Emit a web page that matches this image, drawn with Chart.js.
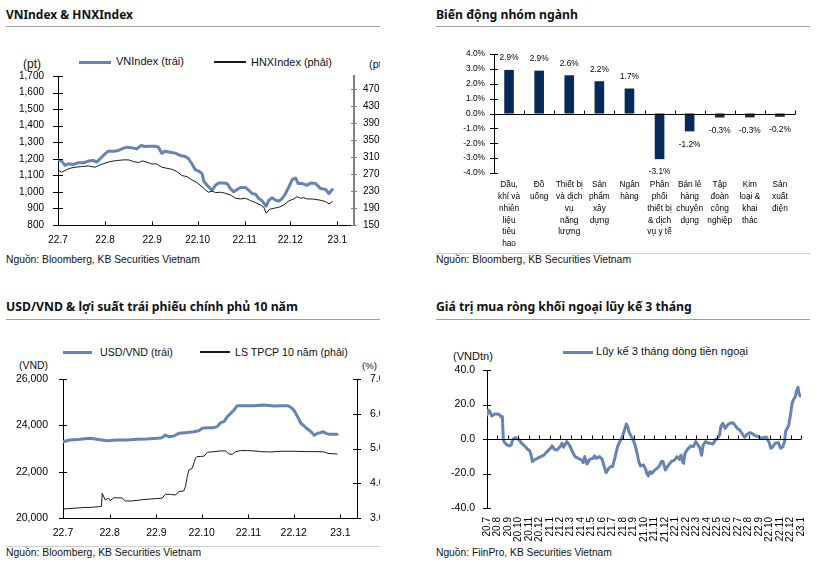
<!DOCTYPE html>
<html><head><meta charset="utf-8">
<script src="https://cdn.jsdelivr.net/npm/chart.js@4.4.0/dist/chart.umd.min.js"></script>
<style>
html,body{margin:0;padding:0;background:#fff;}
#root{position:relative;width:822px;height:562px;overflow:hidden;background:#fff;}
.panel{position:absolute;overflow:hidden;}
.t{position:absolute;white-space:nowrap;line-height:1;color:#111;}
.bar{position:absolute;}
canvas{position:absolute;}
</style></head><body><div id="root"></div>
<script>
// ---------------- DATA ----------------
// Panel 1: VNIndex & HNXIndex (x = days since 1 Jul 2022)
const indexMonthDays = [0, 31, 62, 92, 123, 153, 184];
const indexMonthLabels = ['22.7', '22.8', '22.9', '22.10', '22.11', '22.12', '23.1'];
const vnDays = [0,2.4,4.6,6.8,10.1,13.4,16.7,20.0,23.3,25.5,27.7,31.0,33.2,36.5,39.8,42.0,45.3,48.6,51.9,54.8,57.4,60.7,64.0,66.2,68.4,70.6,73.9,77.2,80.5,83.8,86.0,88.2,90.4,92.6,94.9,96.0,98.2,100.4,101.5,103.7,105.9,109.2,111.4,113.6,115.8,118.0,120.2,123.5,125.7,127.9,130.1,132.3,134.5,137.1,138.9,141.1,143.3,145.5,147.7,149.9,152.1,154.3,156.5,158.2,160.9,164.2,166.4,169.7,173.0,176.3,178.5,180.7];
const vnValues = [1194,1186,1160,1170,1166,1176,1176,1186,1190,1180,1200,1230,1246,1246,1250,1260,1270,1266,1260,1280,1274,1276,1276,1270,1234,1246,1240,1234,1220,1214,1200,1170,1134,1126,1110,1066,1040,1020,1010,1040,1054,1054,1050,1020,1000,1014,1026,1026,1010,990,986,960,946,914,950,964,950,944,960,990,1030,1074,1084,1050,1050,1040,1054,1050,1020,1014,990,1014];
const hnxDays = [0,2.4,4.6,7.9,11.2,15.6,20.0,24.4,27.7,31.0,34.3,38.7,43.1,46.4,49.7,53.0,55.7,58.5,61.8,65.1,68.4,71.7,75.0,78.3,81.6,84.9,88.2,91.5,94.9,97.1,99.3,101.5,103.7,107.0,110.3,113.6,116.9,120.2,123.5,126.8,130.1,133.4,135.6,137.1,139.3,142.2,145.5,148.8,152.1,155.4,157.6,159.8,162.0,164.2,167.5,171.9,176.3,178.5,180.7];
const hnxValues = [279.4,273.9,277.9,283.3,285.7,287.3,288.8,285.7,291.2,295.1,299.0,301.4,303.0,303.0,299.0,296.7,300.6,297.5,293.5,293.5,285.7,283.3,281.0,275.5,266.1,263.7,255.9,249.6,240.2,232.4,226.9,230.0,226.1,226.9,224.5,220.6,212.8,211.2,212.8,207.3,202.6,197.1,191.6,177.5,186.9,189.3,191.6,197.1,206.5,211.2,216.7,212.8,214.3,211.2,211.2,208.9,205.0,199.5,205.0];
const hnxTicks = [150,190,230,270,310,350,390,430,470];

// Panel 2: sector performance
const sectorLabels = [
  ['Dầu,','khí và','nhiên','liệu','tiêu','hao'],
  ['Đồ','uống'],
  ['Thiết bị','và dịch','vụ','năng','lượng'],
  ['Sản','phẩm','xây','dựng'],
  ['Ngân','hàng'],
  ['Phân','phối','thiết bị','& dịch','vụ y tế'],
  ['Bán lẻ','hàng','chuyên','dụng'],
  ['Tập','đoàn','công','nghiệp'],
  ['Kim','loại &','khai','thác'],
  ['Sản','xuất','điện']
];
const sectorChanges = [2.93, 2.88, 2.57, 2.17, 1.68, -3.07, -1.2, -0.27, -0.26, -0.22];

// Panel 3: USD/VND & 10Y government bond yield (x = days since 1 Jul 2022)
const usdDays = [0,4.7,11.3,18.0,22.4,29.1,35.7,42.4,49.1,55.7,62.4,65.7,67.9,70.1,73.5,76.8,81.2,86.8,90.1,92.3,95.7,100.1,102.3,104.5,106.8,109.0,111.2,113.4,115.6,120.1,126.7,133.4,140.1,144.5,148.9,151.2,153.4,155.6,157.8,160.0,162.3,164.5,166.7,168.9,171.1,172.3,174.5,176.7,180.0,181.8];
const usdValues = [23295,23367,23396,23439,23396,23338,23367,23367,23396,23410,23439,23468,23583,23511,23540,23655,23684,23727,23770,23871,23899,23899,23943,24115,24159,24374,24518,24662,24849,24849,24849,24878,24835,24849,24849,24777,24633,24374,24087,23972,23828,23727,23569,23655,23684,23727,23655,23612,23612,23612];
const bondDays = [0,6.9,13.5,20.2,24.6,25.5,26.0,28.0,30.2,31.3,33.5,35.7,39.1,41.3,45.7,51.3,55.7,62.4,65.7,67.9,71.3,74.6,76.8,80.1,81.2,82.4,83.5,85.7,87.9,89.0,91.2,93.5,95.7,100.1,104.5,107.9,110.1,112.3,114.5,117.9,122.3,126.7,131.2,137.8,144.5,153.4,162.3,168.9,173.4,175.6,181.8];
const bondValues = [3.26,3.28,3.30,3.31,3.33,3.33,3.71,3.52,3.57,3.50,3.58,3.58,3.58,3.49,3.49,3.52,3.54,3.56,3.57,3.68,3.68,3.66,3.76,3.78,3.90,4.19,4.38,4.43,4.72,4.77,4.77,4.78,4.89,4.91,4.93,4.93,4.84,4.83,4.91,4.94,4.94,4.93,4.91,4.90,4.92,4.92,4.91,4.91,4.90,4.86,4.84];

// Panel 4: 3-month cumulative foreign net buying (x = months since Jul 2020)
const flowMonthLabels = ['20.7','20.8','20.9','20.10','20.11','20.12','21.1','21.2','21.3','21.4','21.5','21.6','21.7','21.8','21.9','21.10','21.11','21.12','22.1','22.2','22.3','22.4','22.5','22.6','22.7','22.8','22.9','22.10','22.11','22.12','23.1'];
const flowMonths = [0.00,0.13,0.28,0.44,0.59,0.75,1.00,1.22,1.38,1.47,1.56,1.69,1.94,2.16,2.31,2.47,2.69,2.94,3.09,3.25,3.50,3.72,3.88,4.03,4.19,4.34,4.50,4.81,5.13,5.44,5.75,6.06,6.22,6.44,6.69,7.00,7.16,7.31,7.63,7.88,8.09,8.41,8.72,9.03,9.19,9.34,9.56,9.81,10.13,10.28,10.44,10.75,11.00,11.22,11.38,11.63,11.84,12.00,12.25,12.47,12.69,12.94,13.19,13.31,13.44,13.56,13.72,13.88,14.03,14.19,14.34,14.50,14.66,14.97,15.19,15.26,15.41,15.57,15.73,16.04,16.35,16.51,16.66,16.82,17.04,17.29,17.60,17.91,18.16,18.38,18.54,18.69,18.79,18.91,19.16,19.47,19.72,19.94,20.16,20.35,20.50,20.66,20.88,21.19,21.41,21.59,21.81,22.03,22.22,22.34,22.53,22.75,22.97,23.22,23.47,23.69,23.90,24.15,24.40,24.62,24.78,25.09,25.40,25.71,25.96,26.18,26.49,26.71,26.96,27.12,27.27,27.52,27.84,28.05,28.27,28.43,28.52,28.68,28.83,28.99,29.15,29.30,29.46,29.55,29.71,29.80,29.93,30.02];
const flowValues = [13.9,16.8,15.9,13.3,13.9,14.5,14.5,13.9,12.6,13.0,-0.6,-2.1,-3.5,-4.0,-3.5,-0.2,0.8,0.0,-0.6,-2.1,-3.5,-4.8,-6.0,-6.4,-8.7,-13.1,-12.2,-11.2,-10.2,-9.3,-7.3,-5.4,-4.0,-6.0,-6.4,-4.4,-2.5,-4.8,-1.5,-3.5,-6.4,-10.2,-11.2,-12.2,-13.7,-10.2,-14.5,-11.8,-11.2,-9.8,-11.2,-10.2,-11.8,-16.4,-19.5,-17.0,-16.0,-16.0,-10.2,-4.4,-1.5,1.4,6.2,8.7,7.2,4.3,2.3,0.4,-1.5,-4.4,-8.3,-13.1,-15.6,-15.1,-18.0,-19.9,-21.4,-18.9,-19.9,-18.0,-16.4,-15.1,-13.1,-13.1,-18.0,-15.6,-13.1,-12.2,-10.2,-11.8,-9.3,-13.1,-14.1,-8.3,-6.0,-4.0,-4.4,-1.5,-3.5,-5.4,-9.4,-3.5,-1.5,-2.5,-2.5,-2.9,-0.6,0.4,2.3,7.2,9.1,6.2,8.1,9.1,9.5,8.1,6.2,5.2,2.9,1.0,2.3,3.7,2.9,1.7,1.4,0.4,1.0,1.0,-2.1,-5.4,-4.8,-2.5,-2.1,-5.4,-4.4,-1.5,4.3,6.2,8.1,13.9,20.7,23.0,24.5,27.4,30.0,26.5,24.9,25.5];

// ---------------- STYLE ----------------
const FONT = '"Liberation Sans", Arial, sans-serif';
const TITLE_FONT = '"Noto Sans", "Liberation Sans", sans-serif';
const BLUE = '#6584b4';
const DARK = '#1a1a1a';
const NAVY = '#072a58';
Chart.defaults.font.family = FONT;
Chart.defaults.color = '#000';

const root = document.getElementById('root');
const panels = {
  p1: {x: 0, y: 0, w: 380, h: 281},
  p2: {x: 420, y: 0, w: 402, h: 281},
  p3: {x: 0, y: 281, w: 380, h: 281},
  p4: {x: 420, y: 281, w: 402, h: 281}
};
Object.values(panels).forEach(p => {
  p.el = document.createElement('div'); p.el.className = 'panel';
  Object.assign(p.el.style, {left: p.x + 'px', top: p.y + 'px', width: p.w + 'px', height: p.h + 'px'});
  root.appendChild(p.el);
});
function txt(p, s, x, y, o) {
  const el = document.createElement('div'); el.className = 't'; el.textContent = s;
  el.style.fontFamily = o.family || FONT; el.style.fontSize = o.size + 'px';
  el.style.fontWeight = o.weight || 400;
  if (o.color) el.style.color = o.color;
  p.el.appendChild(el);
  if (o.w) { const w = el.getBoundingClientRect().width; el.style.fontSize = (o.size * o.w / w) + 'px'; }
  const h = el.getBoundingClientRect().height;
  el.style.left = (x - p.x) + 'px'; el.style.top = (y - p.y - h / 2) + 'px';
}
function seg(p, x1, x2, y, th, color) {
  const el = document.createElement('div'); el.className = 'bar';
  Object.assign(el.style, {left: (x1 - p.x) + 'px', top: (y - p.y - th / 2) + 'px', width: (x2 - x1) + 'px', height: th + 'px', background: color});
  p.el.appendChild(el);
}
function canvasIn(p, x, y, w, h) {
  const c = document.createElement('canvas'); c.width = w; c.height = h;
  Object.assign(c.style, {left: (x - p.x) + 'px', top: (y - p.y) + 'px', width: w + 'px', height: h + 'px'});
  p.el.appendChild(c); return c;
}

// ---------------- PLUGINS ----------------
const axisMarks = {
  id: 'axisMarks',
  afterDraw(chart, args, o) {
    const ctx = chart.ctx, ca = chart.chartArea;
    const px = v => Math.round(v) + 0.5;
    ctx.save(); ctx.lineWidth = 1;
    (o.yCross || []).forEach(c => {
      const s = chart.scales[c.id]; if (!s) return;
      const x = s.position === 'right' ? s.left : s.right;
      ctx.strokeStyle = c.color || '#000';
      s.ticks.forEach((t, i) => {
        const y = px(s.getPixelForTick(i));
        ctx.beginPath(); ctx.moveTo(x - c.len, y); ctx.lineTo(x + c.len, y); ctx.stroke();
      });
    });
    (o.xUp || []).forEach(c => {
      const s = chart.scales[c.id]; if (!s) return;
      const y = c.zeroOf ? px(chart.scales[c.zeroOf].getPixelForValue(0)) : px(ca.bottom);
      ctx.strokeStyle = c.color || '#000';
      if (c.axisLine) { ctx.beginPath(); ctx.moveTo(ca.left, y); ctx.lineTo(ca.right, y); ctx.stroke(); }
      let xs = [];
      if (c.boundaries) { const n = s.ticks.length; for (let i = 0; i <= n; i++) xs.push(ca.left + (ca.right - ca.left) * i / n); }
      else xs = s.ticks.map((t, i) => s.getPixelForTick(i));
      xs.forEach(x => { const xx = px(x); ctx.beginPath(); ctx.moveTo(xx, y); ctx.lineTo(xx, y - c.len); ctx.stroke(); });
    });
    ctx.restore();
  }
};
const valueLabels = {
  id: 'valueLabels',
  afterDatasetsDraw(chart, args, o) {
    if (!o || !o.show) return;
    const meta = chart.getDatasetMeta(0), ctx = chart.ctx, vals = chart.data.datasets[0].data;
    ctx.save(); ctx.font = o.size + 'px ' + FONT; ctx.fillStyle = '#000';
    ctx.textAlign = 'center'; ctx.textBaseline = 'middle';
    meta.data.forEach((bar, i) => {
      const v = vals[i];
      ctx.fillText(v.toFixed(1) + '%', bar.x, v >= 0 ? bar.y - o.up : bar.y + o.down);
    });
    ctx.restore();
  }
};
Chart.register(axisMarks, valueLabels);

const noGrid = {display: false, drawTicks: false, tickLength: 0};
const fmtThousands = v => String(v).replace(/\B(?=(\d{3})+(?!\d))/g, ',');
const base = {responsive: false, animation: false, events: [],
  elements: {point: {radius: 0}, line: {tension: 0, borderJoinStyle: 'round', borderCapStyle: 'round'}}};

// ---------------- PANEL 1 ----------------
{
  const p = panels.p1;
  txt(p, 'VNIndex & HNXIndex', 6, 15, {size: 12, weight: 700, family: TITLE_FONT, w: 127});
  seg(p, 6, 380, 26.5, 1, '#a0a0a0');
  seg(p, 79, 111, 62, 3, BLUE);
  txt(p, 'VNIndex (trái)', 116, 62, {size: 11, w: 68});
  seg(p, 214, 246, 62, 1.5, DARK);
  txt(p, 'HNXIndex (phải)', 251, 62, {size: 11, w: 81});
  txt(p, '(pt)', 23, 64, {size: 11, w: 18});
  txt(p, '(pt)', 369, 64, {size: 11});
  txt(p, 'Nguồn: Bloomberg, KB Securities Vietnam', 6, 260, {size: 10.3, w: 194});
  const c = canvasIn(p, 0, 40, 381, 225);
  new Chart(c, {
    type: 'line',
    data: {datasets: [
      {label: 'VNIndex (trái)', data: vnDays.map((d, i) => ({x: d, y: vnValues[i]})), borderColor: BLUE, borderWidth: 3, yAxisID: 'y', order: 2},
      {label: 'HNXIndex (phải)', data: hnxDays.map((d, i) => ({x: d, y: hnxValues[i]})), borderColor: DARK, borderWidth: 1, yAxisID: 'y2', order: 1}
    ]},
    options: Object.assign({}, base, {
      layout: {padding: {top: 36, left: 0, right: 0, bottom: 0}},
      plugins: {legend: {display: false}, tooltip: {enabled: false},
        axisMarks: {yCross: [{id: 'y', len: 5}, {id: 'y2', len: 3, color: '#7f7f7f'}], xUp: [{id: 'x', len: 4}]}},
      scales: {
        x: {type: 'linear', min: 0, max: 195,
          afterBuildTicks: s => { s.ticks = indexMonthDays.map(v => ({value: v})); },
          ticks: {callback: (v, i) => indexMonthLabels[i], autoSkip: false, maxRotation: 0, padding: 9.5, font: {size: 10}},
          grid: noGrid, border: {color: '#000'}, afterFit: s => { s.height = 40; }},
        y: {position: 'left', min: 800, max: 1700,
          ticks: {stepSize: 100, callback: v => fmtThousands(v), padding: 14, font: {size: 10}},
          grid: noGrid, border: {color: '#000'}, afterFit: s => { s.width = 58; }},
        y2: {position: 'right', min: 150, max: 500,
          afterBuildTicks: s => { s.ticks = hnxTicks.map(v => ({value: v})); },
          ticks: {padding: 9, font: {size: 10}},
          grid: noGrid, border: {color: '#7f7f7f', width: 2}, afterFit: s => { s.width = 27; }}
      }
    })
  });
}

// ---------------- PANEL 2 ----------------
{
  const p = panels.p2;
  txt(p, 'Biến động nhóm ngành', 436, 15, {size: 12, weight: 700, family: TITLE_FONT, w: 142});
  seg(p, 436, 810, 26.5, 1, '#a0a0a0');
  seg(p, 436, 810, 253, 1, '#cfcfcf');
  txt(p, 'Nguồn: Bloomberg, KB Securities Vietnam', 436, 260, {size: 10.3, w: 195});
  const c = canvasIn(p, 420, 40, 402, 215);
  new Chart(c, {
    type: 'bar',
    data: {labels: sectorLabels, datasets: [{data: sectorChanges, backgroundColor: NAVY, barPercentage: 0.32, categoryPercentage: 1}]},
    options: Object.assign({}, base, {
      layout: {padding: {top: 14, left: 0, right: 27, bottom: 0}},
      plugins: {legend: {display: false}, tooltip: {enabled: false},
        valueLabels: {show: true, size: 8.3, up: 12, down: 13},
        axisMarks: {yCross: [{id: 'y', len: 4}], xUp: [{id: 'x', len: 4, zeroOf: 'y', axisLine: true, boundaries: true}]}},
      scales: {
        x: {ticks: {font: {size: 8.3, lineHeight: 1.42}, padding: 6, maxRotation: 0, autoSkip: false},
          grid: noGrid, border: {display: false}, afterFit: s => { s.height = 82; }},
        y: {min: -4, max: 4, ticks: {stepSize: 1, callback: v => v.toFixed(1) + '%', padding: 9, font: {size: 8.3}},
          grid: noGrid, border: {color: '#000'}, afterFit: s => { s.width = 74; }}
      }
    })
  });
}

// ---------------- PANEL 3 ----------------
{
  const p = panels.p3;
  txt(p, 'USD/VND & lợi suất trái phiếu chính phủ 10 năm', 6, 307, {size: 12, weight: 700, family: TITLE_FONT, w: 292});
  seg(p, 6, 380, 319.5, 1, '#a0a0a0');
  seg(p, 6, 380, 546, 1, '#cfcfcf');
  seg(p, 63, 92, 352, 3, BLUE);
  txt(p, 'USD/VND (trái)', 100, 352, {size: 11, w: 73});
  seg(p, 200, 230, 352, 1.5, DARK);
  txt(p, 'LS TPCP 10 năm (phải)', 235, 352, {size: 11, w: 113});
  txt(p, '(VND)', 19, 366, {size: 11, w: 29});
  txt(p, '(%)', 362, 366, {size: 11, w: 15});
  txt(p, 'Nguồn: Bloomberg, KB Securities Vietnam', 6, 553, {size: 10.3, w: 195});
  const c = canvasIn(p, 0, 330, 381, 225);
  new Chart(c, {
    type: 'line',
    data: {datasets: [
      {label: 'USD/VND (trái)', data: usdDays.map((d, i) => ({x: d, y: usdValues[i]})), borderColor: BLUE, borderWidth: 3, yAxisID: 'y', order: 2},
      {label: 'LS TPCP 10 năm (phải)', data: bondDays.map((d, i) => ({x: d, y: bondValues[i]})), borderColor: DARK, borderWidth: 1, yAxisID: 'y2', order: 1}
    ]},
    options: Object.assign({}, base, {
      layout: {padding: {top: 49, left: 0, right: 0, bottom: 0}},
      plugins: {legend: {display: false}, tooltip: {enabled: false},
        axisMarks: {yCross: [{id: 'y', len: 4}, {id: 'y2', len: 4}], xUp: [{id: 'x', len: 4}]}},
      scales: {
        x: {type: 'linear', min: 0, max: 195,
          afterBuildTicks: s => { s.ticks = indexMonthDays.map(v => ({value: v})); },
          ticks: {callback: (v, i) => indexMonthLabels[i], autoSkip: false, maxRotation: 0, padding: 9, font: {size: 10.5}},
          grid: noGrid, border: {color: '#000'}, afterFit: s => { s.height = 37; }},
        y: {position: 'left', min: 20000, max: 26000,
          ticks: {stepSize: 2000, callback: v => fmtThousands(v), padding: 15, font: {size: 10.5}},
          grid: noGrid, border: {color: '#000'}, afterFit: s => { s.width = 63; }},
        y2: {position: 'right', min: 3, max: 7,
          ticks: {stepSize: 1, callback: v => v.toFixed(1), padding: 13, font: {size: 10.5}},
          grid: noGrid, border: {color: '#000'}, afterFit: s => { s.width = 24; }}
      }
    })
  });
}

// ---------------- PANEL 4 ----------------
{
  const p = panels.p4;
  txt(p, 'Giá trị mua ròng khối ngoại lũy kế 3 tháng', 436, 307, {size: 12, weight: 700, family: TITLE_FONT, w: 256});
  seg(p, 436, 810, 319.5, 1, '#a0a0a0');
  seg(p, 563, 593, 352, 3, BLUE);
  txt(p, 'Lũy kế 3 tháng dòng tiền ngoại', 596, 352, {size: 11, w: 152});
  txt(p, '(VNDtn)', 453, 357, {size: 11, w: 40});
  txt(p, 'Nguồn: FiinPro, KB Securities Vietnam', 436, 553, {size: 10.3, w: 176});
  const c = canvasIn(p, 420, 330, 402, 215);
  new Chart(c, {
    type: 'line',
    data: {datasets: [
      {label: 'Lũy kế 3 tháng dòng tiền ngoại', data: flowMonths.map((m, i) => ({x: m, y: flowValues[i]})), borderColor: BLUE, borderWidth: 3}
    ]},
    options: Object.assign({}, base, {
      layout: {padding: {top: 40, left: 0, right: 14, bottom: 0}},
      plugins: {legend: {display: false}, tooltip: {enabled: false},
        axisMarks: {yCross: [{id: 'y', len: 4}], xUp: [{id: 'x', len: 4, zeroOf: 'y', axisLine: true}]}},
      scales: {
        x: {type: 'linear', min: 0, max: 30,
          afterBuildTicks: s => { s.ticks = flowMonthLabels.map((l, i) => ({value: i})); },
          ticks: {callback: (v, i) => flowMonthLabels[i], autoSkip: false, minRotation: 90, maxRotation: 90, padding: 9, font: {size: 10}},
          grid: noGrid, border: {display: false}, afterFit: s => { s.height = 37; }},
        y: {min: -40, max: 40,
          ticks: {stepSize: 20, callback: v => v.toFixed(1), padding: 12, font: {size: 10.5}},
          grid: noGrid, border: {color: '#000'}, afterFit: s => { s.width = 67; }}
      }
    })
  });
}
</script></body></html>
